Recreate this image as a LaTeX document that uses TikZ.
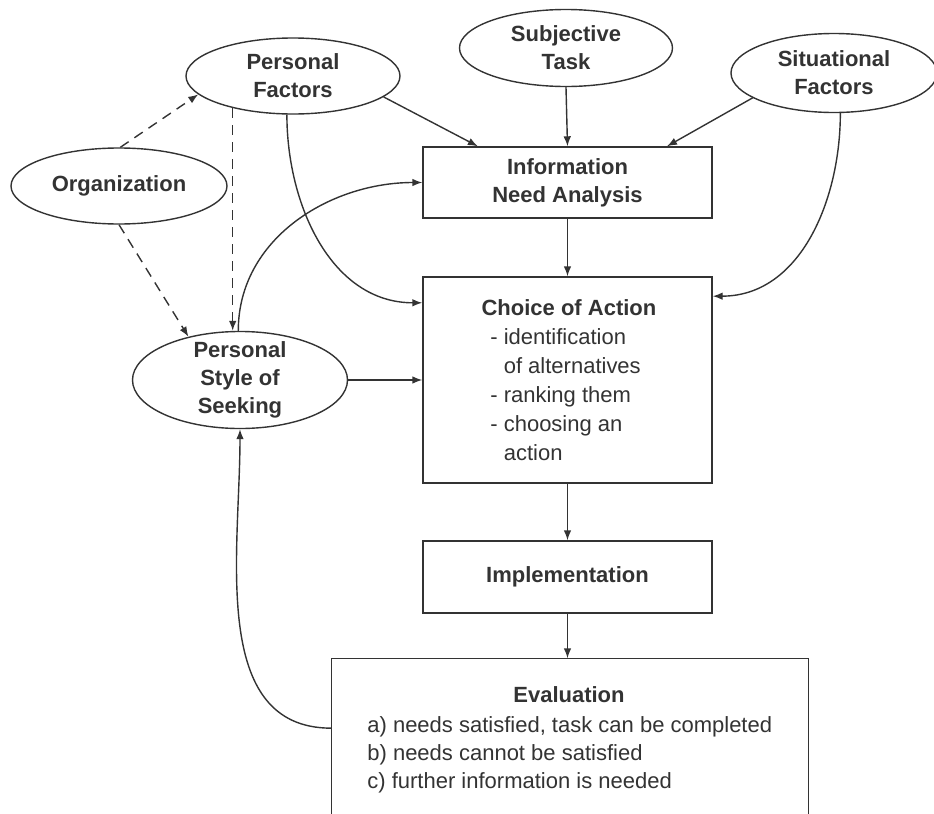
\documentclass[tikz,border=0pt]{standalone}
\usepackage{fontspec}
\setmainfont{Liberation Sans}
\usetikzlibrary{shapes.geometric}
\usetikzlibrary{arrows.meta}

\definecolor{inkgray}{RGB}{51,51,51}

\begin{document}
\begin{tikzpicture}[x=0.5pt,y=0.5pt,yscale=-1,
    color=inkgray, line width=0.7pt,
    font=\fontsize{11}{14}\selectfont,
    factor/.style={draw, ellipse, inner sep=-2pt, align=center, font=\fontsize{11}{14}\selectfont\bfseries},
    stage/.style={draw, rectangle, minimum width=144.5pt, align=center, font=\fontsize{11}{14}\selectfont\bfseries},
    flow/.style={-{Latex[length=5pt,width=3.8pt]}},
    influence/.style={flow, dash pattern=on 5pt off 3.5pt}]
    %set diagram to the size of the reference
    \useasboundingbox (0,0) rectangle (934,814);

    %Shape: Ellipse [factors]
    \node [factor, minimum width=107pt, minimum height=38pt] (pf) at (293,76) {Personal\\Factors};
    \node [factor, minimum width=108pt, minimum height=38pt] (org) at (119,186) {Organization};
    \node [factor, minimum width=106.5pt, minimum height=38.5pt] (st) at (566,48) {Subjective\\Task};
    \node [factor, minimum width=103pt, minimum height=39.5pt] (sf) at (834,73) {Situational\\Factors};
    \node [factor, minimum width=107.5pt, minimum height=48.5pt] (ps) at (240,380) {Personal\\Style of\\Seeking};

    %Shape: Rectangle [stages]
    \node [stage, minimum height=35.5pt] (info) at (567.5,182.5) {Information\\Need Analysis};
    \node [stage, minimum height=103pt] (choice) at (567.5,380) {};
    \node [stage, minimum height=36pt] (impl) at (567.5,577) {Implementation};
    \node [minimum width=238pt, minimum height=77.5pt] (eval) at (570,736.5) {};
    \draw (eval.south west) |- (eval.north east) -- (eval.south east);

    % Text Node
    \node [font=\fontsize{11}{14}\selectfont\bfseries] (choicehead) at (569,308) {Choice of Action};
    % Text Node
    \node [anchor=west, align=left, font=\fontsize{11}{14.5}\selectfont] (choicelist) at (483,395)
        {- identification\\\phantom{- }of alternatives\\- ranking them\\- choosing an\\\phantom{- }action};
    % Text Node
    \node [font=\fontsize{11}{14}\selectfont\bfseries] (evalhead) at (569,695) {Evaluation};
    % Text Node
    \node [anchor=west, align=left] (evallist) at (360,755)
        {a) needs satisfied, task can be completed\\b) needs cannot be satisfied\\c) further information is needed};

    %Straight Lines
    \draw [flow] (pf.-13) -- (info.158);
    \draw [flow] (st.south) -- (info.north);
    \draw [flow] (sf.197) -- (info.20.6);
    \draw [flow] (info.south) -- (choice.north);
    \draw [flow] (choice.south) -- (impl.north);
    \draw [flow] (impl.south) -- (impl.south |- eval.north);
    \draw [flow] (ps.east) -- (choice.180);

    %Curves (angles flipped by yscale=-1)
    \draw [flow] (pf.261) to [out=90, in=180] (choice.152.6);
    \draw [flow] (sf.-81) to [out=90, in=0] (choice.30.5);
    \draw [flow] (ps.92) to [out=-90, in=180] (info.west);
    \draw [flow] (eval.178.4) to [out=180, in=90] (ps.south);

    %Dashed Lines
    \draw [influence] (org.88) -- (pf.191);
    \draw [influence] (org.south) -- (ps.140);
    \draw [influence] (pf.208) -- (pf.208 |- ps.north);

\end{tikzpicture}
\end{document}
